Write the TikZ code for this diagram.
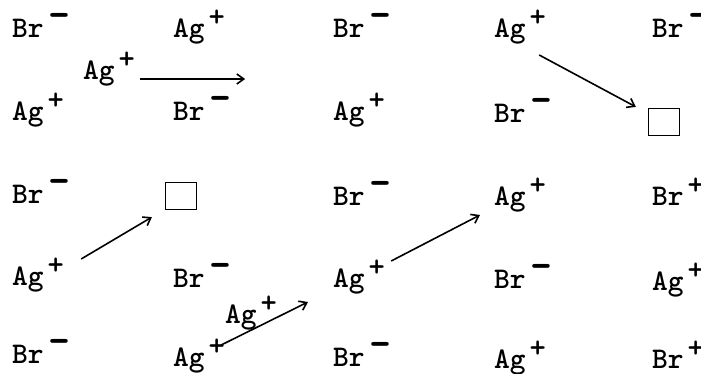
\documentclass[tikz,border=0pt]{standalone}
\usepackage{graphicx}
\usepackage{tikz}
\usetikzlibrary{arrows.meta,calc}
\newcommand{\plusup}{\hspace{4pt}\raisebox{11pt}{\fontsize{31}{31}\selectfont +}}
\newcommand{\minusup}{\hspace{5pt}\raisebox{8pt}{\scalebox{1.9}[2.1]{\fontsize{22}{22}\selectfont -}}}

\begin{document}
\begin{tikzpicture}[x=1pt,y=-1pt,
  ion/.style={inner sep=0pt,anchor=base west,font=\fontsize{30}{30}\selectfont\ttfamily\bfseries},
  vacancy/.style={draw,line width=1.2pt,inner sep=0pt,minimum width=31pt,minimum height=27pt},
  jump/.style={-{Straight Barb[length=7pt,width=10pt]},line width=1.6pt}
]
\useasboundingbox (0,0) rectangle (701,374);
\node[ion] (br11) at (12,38) {Br\minusup};
\node[ion] (ag12) at (173,38) {Ag\plusup};
\node[ion] (br13) at (333,38) {Br\minusup};
\node[ion] (ag14) at (494,38) {Ag\plusup};
\node[ion] (br15) at (652,38) {Br\minusup};
\node[ion] (agm1) at (83,80) {Ag\plusup};
\node[ion] (ag21) at (12,121) {Ag\plusup};
\node[ion] (br22) at (173,121) {Br\minusup};
\node[ion] (ag23) at (333,121) {Ag\plusup};
\node[ion] (br24) at (494,123) {Br\minusup};
\node[vacancy] (vac25) at (664,122) {};
\node[ion] (br31) at (12,204) {Br\minusup};
\node[vacancy] (vac32) at (181,196) {};
\node[ion] (br33) at (333,205) {Br\minusup};
\node[ion] (ag34) at (494,206) {Ag\plusup};
\node[ion] (br35) at (652,206) {Br\plusup};
\node[ion] (ag41) at (12,285) {Ag\plusup};
\node[ion] (br42) at (173,287) {Br\minusup};
\node[ion] (ag43) at (333,287) {Ag\plusup};
\node[ion] (br44) at (494,288) {Br\minusup};
\node[ion] (ag45) at (652,290) {Ag\plusup};
\node[ion] (agm2) at (225,323) {Ag\plusup};
\node[ion] (br51) at (12,363) {Br\minusup};
\node[ion] (ag52) at (173,366) {Ag\plusup};
\node[ion] (br53) at (333,366) {Br\minusup};
\node[ion] (ag54) at (494,368) {Ag\plusup};
\node[ion] (br55) at (652,368) {Br\plusup};
\coordinate (hop1) at ($(agm1.base east)+(110,-1)$);
\draw[jump] ($(agm1.base east)+(5,-1)$) -- (hop1);
\draw[jump] ($(ag14.base east)+(-7,17)$) -- ($(vac25.north west)+(-12,-1)$);
\draw[jump] ($(ag41.base east)+(17,-26)$) -- ($(vac32.south west)+(-13,7)$);
\draw[jump] ($(ag43.base east)+(6,-26)$) -- ($(ag34.base west)+(-14,9)$);
\draw[jump] ($(ag52.base east)+(-4,-21)$) -- ($(ag43.base west)+(-25,15)$);
\end{tikzpicture}
\end{document}
